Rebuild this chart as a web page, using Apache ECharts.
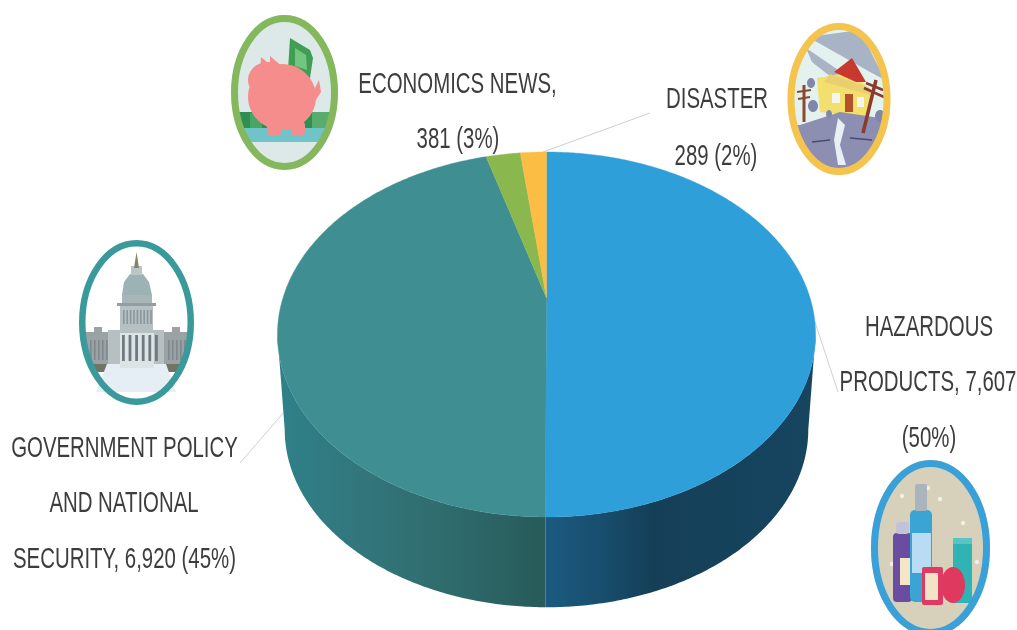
<!DOCTYPE html>
<html><head><meta charset="utf-8">
<style>html,body{margin:0;padding:0;background:#fff}#c{width:1017px;height:630px}</style>
<script src="https://cdn.jsdelivr.net/npm/echarts@6/dist/echarts.min.js"></script>
</head><body><div id="c"></div>
<script>
const categories = ['HAZARDOUS PRODUCTS','GOVERNMENT POLICY AND NATIONAL SECURITY','ECONOMICS NEWS','DISASTER'];
const values = [7607, 6920, 381, 289];
const sliceColors = ['#2f9fd9','#3f8f92','#8ab84f','#fbbd43'];
const labelLines = [
  ['HAZARDOUS','PRODUCTS, 7,607','(50%)'],
  ['GOVERNMENT POLICY','AND NATIONAL','SECURITY, 6,920 (45%)'],
  ['ECONOMICS NEWS,','381 (3%)'],
  ['DISASTER','289 (2%)']
];

// Perspective projection of the pie's circle (angle clockwise from 12 o'clock)
const K = 0.2;
const topFace = {cx:546.5, cy:298, a:263.6, b:175.2};
const botFace = {cx:546.5, cy:394, a:256.5, b:170.6};
function proj(f, th){
  const w = 1 + K*Math.cos(th);
  return [f.cx + f.a*Math.sin(th)/w, f.cy - f.b*Math.cos(th)/w];
}
function arc(f, t0, t1){
  const n = Math.max(2, Math.ceil(Math.abs(t1-t0)/0.01)), pts = [];
  for(let i=0;i<=n;i++) pts.push(proj(f, t0+(t1-t0)*i/n));
  return pts;
}
const total = values.reduce((a,b)=>a+b,0);
const bounds = [0];
values.forEach(v=>bounds.push(bounds[bounds.length-1]+v/total*2*Math.PI));
const tangentR = Math.acos(-K), tangentL = 2*Math.PI-tangentR;

function LG(x0,x1,stops){
  return new echarts.graphic.LinearGradient(x0,0,x1,0,stops.map(s=>({offset:s[0],color:s[1]})),true);
}
const wallFills = [
  LG(547,812,[[0,'#1b5a80'],[0.2,'#184e6e'],[0.4,'#153f57'],[1,'#164560']]),
  LG(284,547,[[0,'#2f8089'],[0.3,'#32767b'],[0.6,'#2f6c6e'],[1,'#275a59']])
];

function renderWall(params){
  const i = params.dataIndex;
  const t0 = Math.max(bounds[i], tangentR), t1 = Math.min(bounds[i+1], tangentL);
  if(t1<=t0) return null;
  const pts = arc(topFace,t0,t1).concat(arc(botFace,t1,t0));
  return {type:'polygon', shape:{points:pts}, style:{fill:wallFills[i]||sliceColors[i]}};
}
function renderTop(params){
  const i = params.dataIndex;
  const pts = [[topFace.cx,topFace.cy]].concat(arc(topFace,bounds[i],bounds[i+1]));
  return {type:'polygon', shape:{points:pts}, style:{fill:sliceColors[i], stroke:sliceColors[i], lineWidth:0.4}};
}

// ------ decorative round icons -------
function chord(cx,cy,rx,ry,y0,y1,fill){
  const L=[],R=[];
  for(let k=0;k<=12;k++){
    const y=y0+(y1-y0)*k/12, d=rx*Math.sqrt(Math.max(0,1-((y-cy)/ry)*((y-cy)/ry)));
    L.push([cx-d,y]);R.unshift([cx+d,y]);
  }
  return {type:'polygon',shape:{points:L.concat(R)},style:{fill}};
}
const E=(cx,cy,rx,ry,fill,extra)=>({type:'ellipse',shape:{cx,cy,rx,ry},style:Object.assign({fill},extra||{})});
const Rc=(x,y,width,height,fill,r)=>({type:'rect',shape:{x,y,width,height,r:r||0},style:{fill}});
const P=(points,fill)=>({type:'polygon',shape:{points},style:{fill}});
const Ln=(x1,y1,x2,y2,stroke,lineWidth)=>({type:'line',shape:{x1,y1,x2,y2},style:{stroke,lineWidth}});
const ring=(cx,cy,rx,ry,stroke,w)=>({type:'ellipse',shape:{cx,cy,rx:rx-w/2,ry:ry-w/2},style:{fill:'transparent',stroke,lineWidth:w}});

function pigIcon(){
  const cx=284.5,cy=92.5,rx=53.5,ry=77.5;
  return [
    E(cx,cy,rx,ry,'#dde9e9'),
    chord(cx,cy,rx-3,ry-3,112,128,'#2f8f52'),
    Rc(250,113,12,15,'#49a563'),Rc(312,112,18,16,'#58ad6e'),
    chord(cx,cy,rx-3,ry-3,128,142,'#6fc3c9'),
    P([[290,38],[310,50],[313,58],[310,78],[300,80],[288,70]],'#3f9e52'),
    P([[295,48],[306,55],[307,70],[295,66]],'#74c582'),
    E(282,97,34,33,'#f58d8d'),
    E(268,80,20,18,'#f58d8d'),
    P([[261,57],[272,66],[260,72]],'#f58d8d'),
    P([[270,56],[284,68],[270,70]],'#f58d8d'),
    Rc(267,122,14,13,'#f58d8d',3),Rc(291,122,14,13,'#f58d8d',3),
    P([[313,92],[319,80],[321,92],[312,106]],'#f58d8d'),
    ring(cx,cy,rx,ry,'#85b85c',7)
  ];
}
function disasterIcon(){
  const cx=839,cy=99,rx=51.5,ry=76;
  return [
    E(cx,cy,rx,ry,'#e4f2ef'),
    P([[808,37],[860,30],[885,80],[870,72]],'#a8b3c6'),
    P([[812,62],[806,48],[850,78],[840,84]],'#a8b3c6'),
    P([[817,78],[852,72],[872,92],[868,118],[820,112]],'#f3df6d'),
    P([[834,72],[852,58],[866,82],[856,82]],'#c7392f'),
    P([[824,82],[870,95],[870,88],[830,74]],'#e8d070'),
    Rc(845,94,8,18,'#b5502d'),Rc(832,93,8,10,'#f5f5f0'),Rc(857,97,7,10,'#f5f5f0'),
    chord(cx,cy,rx-3,ry-3,125,170,'#8c8eb2'),
    P([[800,125],[840,112],[880,118],[885,130],[800,135]],'#8c8eb2'),
    P([[838,118],[845,125],[840,145],[846,165],[838,165],[834,140]],'#e8f0f5'),
    Ln(804,122,804,85,'#8a4a30',3),Ln(797,92,811,90,'#8a4a30',2),Ln(798,99,810,97,'#8a4a30',2),
    Ln(863,133,876,80,'#8a3a2e',3.5),Ln(864,88,884,97,'#8a3a2e',2.5),Ln(866,83,883,90,'#8a3a2e',2.5),
    Ln(812,142,830,140,'#4d4a6e',1.5),Ln(850,138,872,140,'#4d4a6e',1.5),
    E(813,106,5,6,'#7f87aa'),E(811,83,4,5,'#7f87aa'),E(880,116,5,6,'#7f87aa'),E(829,114,3,4,'#7f87aa'),
    ring(cx,cy,rx,ry,'#f5c44f',7)
  ];
}
function capitolIcon(){
  const cx=136.5,cy=322.5,rx=57.5,ry=82.5;
  const g='#9aa2a6',m='#b6c0c2',d='#6f7a80';
  const cols=[], col2=[], wing=[];
  for(let i=0;i<6;i++) cols.push(Rc(122+i*6.6,335,2.8,26,d));
  for(let i=0;i<9;i++) col2.push(Rc(123+i*3.4,310,1.6,14,'#8a979c'));
  for(let i=0;i<5;i++){ wing.push(Rc(90+i*4,340,1.6,20,'#7f888d')); wing.push(Rc(168+i*4,340,1.6,20,'#7f888d')); }
  return [
    E(cx,cy,rx,ry,'#ffffff'),
    chord(cx,cy,rx-2,ry-2,332,364,g),
    Rc(94,327,8,8,g),Rc(172,327,8,8,g),
    Rc(108,330,56,38,m),
    chord(cx,cy,rx-2,ry-2,364,372,'#6f7466'),
    P([[107,364],[166,364],[176,392],[96,392]],'#e6eef5'),
    Rc(120,333,34,35,'#dce4e6'),
    Rc(120,305,33,25,m),
    Rc(117,303,39,3,'#8fa0a4'),
    Rc(122,295,30,8,'#a8b6b8'),
    P([[122,295],[124,282],[130,274],[143,274],[149,282],[152,295]],'#9db3b3'),
    Rc(131,266,11,9,'#b9c6c6'),
    P([[136.5,252],[139,268],[134,268]],'#84846a')
  ].concat(wing,cols,col2,[ring(cx,cy,rx,ry,'#3a9a9b',6.5)]);
}
function productIcon(){
  const cx=930.5,cy=548,rx=59.5,ry=88;
  const dots=[[902,496],[940,499],[963,523],[977,562],[892,564],[928,488]].map(p=>E(p[0],p[1],2.2,2.2,'#f3efe4'));
  return [E(cx,cy,rx,ry,'#d7d1bc')].concat(dots,[
    Rc(953,538,19,65,'#2fb3b5'),
    Rc(953,538,19,6,'#58c4c4'),
    Rc(893,533,19,69,'#6a4da0',4),
    Rc(896,522,13,12,'#c0c4d6',3),
    Rc(900,558,12,27,'#f5e7c6'),
    Rc(910,510,22,92,'#3aa4d4',5),
    Rc(915,484,12,27,'#a9b4bc',2),
    Rc(912,533,19,40,'#b8dcf4'),
    Rc(922,567,21,38,'#df3a62',2),
    Rc(925,573,13,27,'#f2e2c8'),
    E(953,585,12,18,'#e0395f'),
    ring(cx,cy,rx,ry,'#3aa0d8',7)
  ]);
}

// ------ text labels -------
const FONT = '"Liberation Sans",Arial,sans-serif';
const FS = 30;
const SX = 0.68;
const labelSpec = [
  {x:[929,928,929], y:[328,383,439]},
  {x:[124.5,124,124.5], y:[449,504,560]},
  {x:[457.5,458], y:[85,140]},
  {x:[717,716], y:[100,157]}
];
const texts=[];
labelLines.forEach((ls,i)=>{
  const s=labelSpec[i];
  ls.forEach((t,j)=>{
    texts.push({type:'text',x:s.x[j],y:s.y[j],scaleX:SX,originX:0,originY:0,z:10,
      style:{text:t,font:FS+'px '+FONT,fill:'#3d3d3d',textAlign:'center',textVerticalAlign:'middle'}});
  });
});
const leaders=[
  {type:'polyline',shape:{points:[[815,322],[838,392]]},style:{fill:'none',stroke:'#d2d0d0',lineWidth:1},z:1},
  {type:'polyline',shape:{points:[[285,411],[240,463]]},style:{fill:'none',stroke:'#cfcfcf',lineWidth:1},z:1},
  {type:'polyline',shape:{points:[[543,152],[650,113]]},style:{fill:'none',stroke:'#cfcfcf',lineWidth:1},z:1}
];

const chart = echarts.init(document.getElementById('c'),null,{renderer:'canvas'});
const data = values.map((v,i)=>({name:categories[i],value:v}));
chart.setOption({
  animation:false,
  backgroundColor:'#fff',
  graphic:[
    ...leaders,
    {type:'group',children:pigIcon()},
    {type:'group',children:disasterIcon()},
    {type:'group',children:capitolIcon()},
    {type:'group',children:productIcon()},
    ...texts
  ],
  series:[
    {type:'custom',coordinateSystem:'none',renderItem:renderWall,data,silent:true,z:2},
    {type:'custom',coordinateSystem:'none',renderItem:renderTop,data,silent:true,z:3}
  ]
});
</script></body></html>
